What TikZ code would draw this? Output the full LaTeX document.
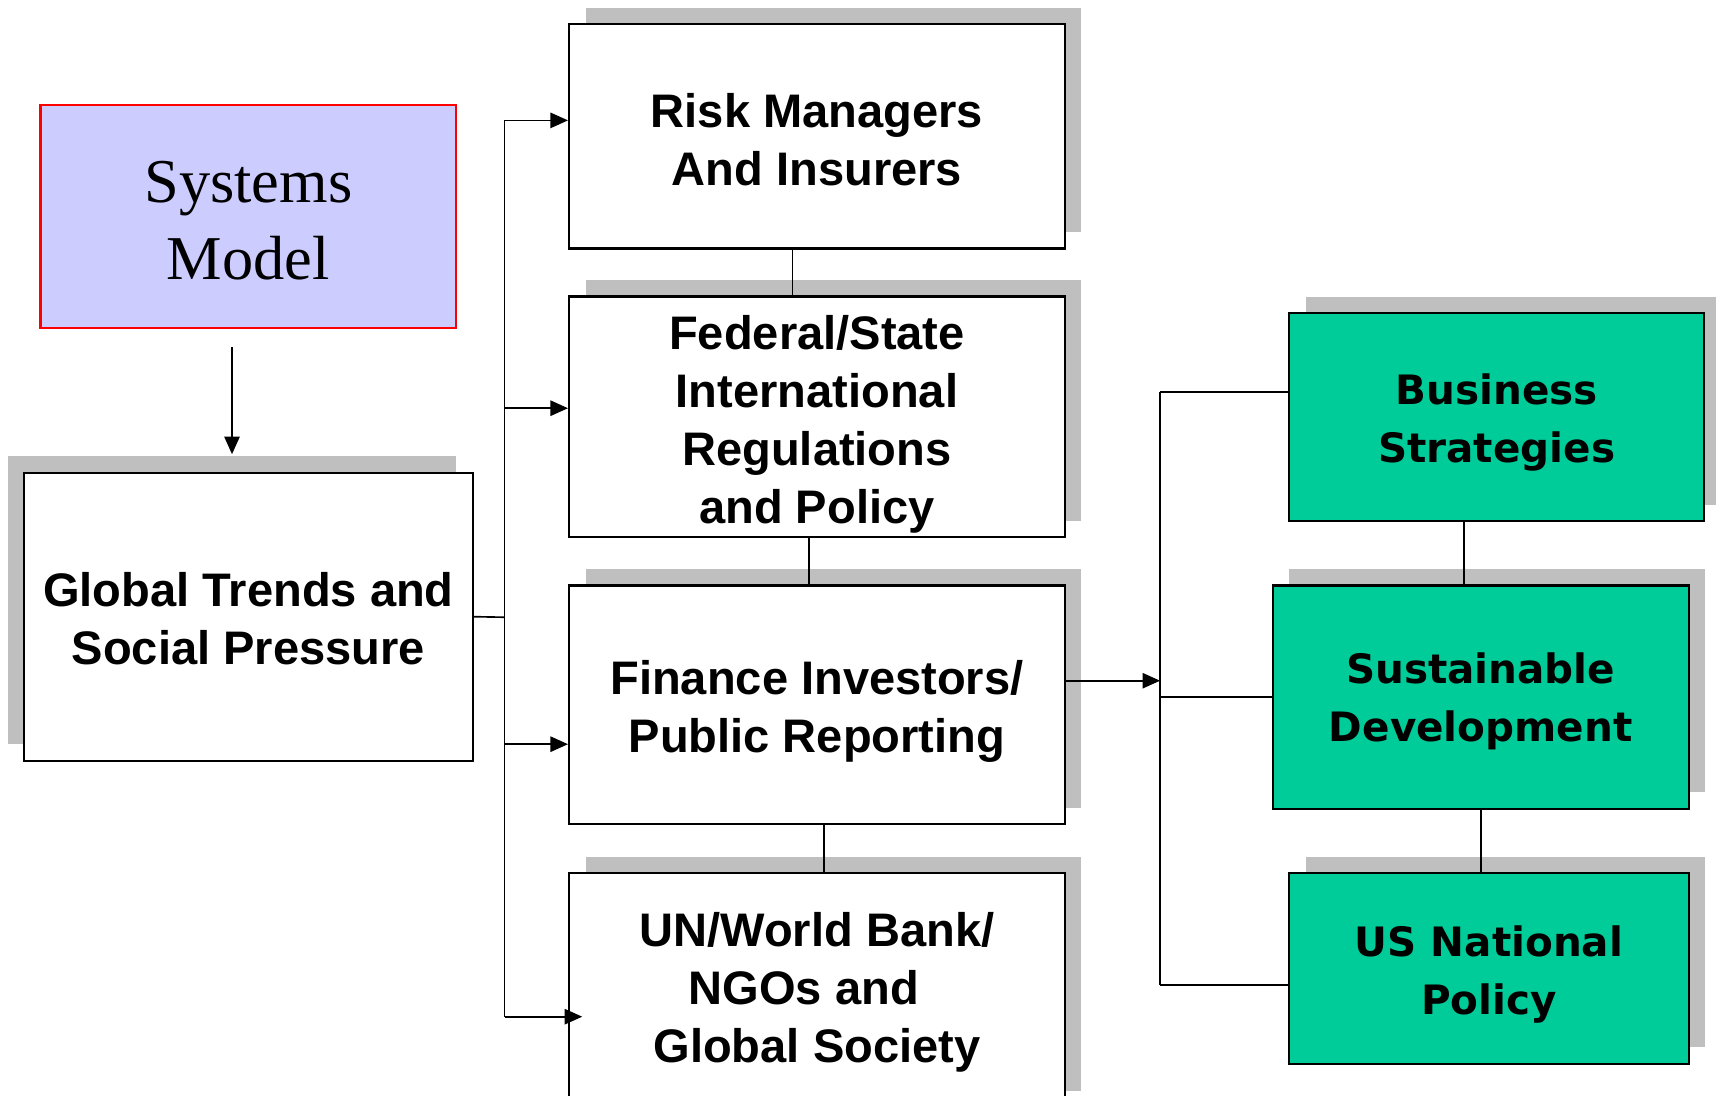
\documentclass[tikz,border=0pt]{standalone}
\usepackage{fontspec}
\setmainfont{Liberation Sans}
\newfontfamily\serifface{Liberation Serif}
\newfontfamily\wideface{DejaVu Sans}
\usetikzlibrary{arrows.meta,shadows}

\definecolor{lavender}{HTML}{CCCCFF}
\definecolor{seagreen}{HTML}{00CC99}
\definecolor{shadowgray}{HTML}{BFBFBF}

\begin{document}
\begin{tikzpicture}[x=0.5pt,y=-0.5pt,
    plain_box/.style={rectangle,draw,line width=1pt,fill=white,align=center,inner sep=0pt,font=\fontsize{21.5}{26.5}\selectfont\bfseries},
    box_node/.style={plain_box,drop shadow={shadow xshift=7.5pt,shadow yshift=7.5pt,fill=shadowgray,opacity=1}},
    left_node/.style={plain_box,drop shadow={shadow xshift=-7.5pt,shadow yshift=7.5pt,fill=shadowgray,opacity=1}},
    green_node/.style={box_node,fill=seagreen,font=\wideface\fontsize{18.5}{26.5}\selectfont\bfseries},
    sys_node/.style={rectangle,draw=red,line width=1pt,fill=lavender,align=center,font=\serifface\fontsize{28.5}{35}\selectfont},
    link/.style={line width=0.75pt},
    arrow_link/.style={link,-{Triangle[length=8pt,width=7pt]}}]

    \useasboundingbox (0,0) rectangle (1568,1001);

    \node[sys_node,minimum width=190pt,minimum height=102pt] (sys) at (227,198) {\rule{0pt}{22.5pt}Systems\\Model};
    \node[left_node,minimum width=205pt,minimum height=131.5pt] (glob) at (227,563.5) {\rule{0pt}{17.5pt}Global Trends and\\Social Pressure};

    \node[box_node,minimum width=226.5pt,minimum height=102.5pt] (risk) at (746.5,124.5) {\rule{0pt}{19pt}Risk Managers\\And Insurers};
    \node[box_node,minimum width=226.5pt,minimum height=110pt] (fed) at (746.5,381) {\rule{0pt}{22pt}Federal/State\\International\\Regulations\\and Policy};
    \node[box_node,minimum width=226.5pt,minimum height=109pt] (fin) at (746.5,644) {\rule{0pt}{22pt}Finance Investors/\\Public Reporting};
    \node[box_node,minimum width=226.5pt,minimum height=107pt] (un) at (746.5,905) {\rule{0pt}{17pt}UN/World Bank/\\NGOs and\rule{12pt}{0pt}\\Global Society};

    \node[green_node,minimum width=189.5pt,minimum height=95pt] (bus) at (1367.5,381) {\rule{0pt}{19pt}Business\\Strategies};
    \node[green_node,minimum width=190pt,minimum height=102pt] (sust) at (1353,637) {\rule{0pt}{18pt}Sustainable\\Development};
    \node[green_node,minimum width=182.5pt,minimum height=87pt] (us) at (1360.5,885) {\rule{0pt}{19.5pt}US National\\Policy};

    \coordinate (bus_left) at (461,564);
    \coordinate (in_risk) at (461,110);
    \coordinate (in_fed) at (461,373);
    \coordinate (in_fin) at (461,680);
    \coordinate (in_un) at (461,929);
    \coordinate (out_top) at (1060,358);
    \coordinate (out_mid) at (1060,622);
    \coordinate (out_bot) at (1060,900);

    \draw[arrow_link,shorten <=8pt,shorten >=8pt] ([xshift=-7.5pt]sys.south) -- ([xshift=-7.5pt]sys.south |- glob.north);

    \draw[link] (glob.east) -- (bus_left);
    \draw[link] (in_risk) -- (in_un);
    \draw[arrow_link] (in_risk) -- (in_risk -| risk.west);
    \draw[arrow_link] (in_fed) -- (in_fed -| fed.west);
    \draw[arrow_link] (in_fin) -- (in_fin -| fin.west);
    \draw[arrow_link] (in_un) -- ([xshift=6.5pt]in_un -| un.west);

    \draw[link] ([xshift=-11.25pt]risk.south) -- ([xshift=-11.25pt]fed.north);
    \draw[link] ([xshift=-3.75pt]fed.south) -- ([xshift=-3.75pt]fin.north);
    \draw[link] ([xshift=3.25pt]fin.south) -- ([xshift=3.25pt]un.north);

    \draw[arrow_link] ([yshift=11pt]fin.east) -- (out_mid);
    \draw[link] (out_top) -- (out_bot);
    \draw[link] (out_top) -- (out_top -| bus.west);
    \draw[link] (sust.west) -- (sust.west -| out_top);
    \draw[link] (out_bot) -- (out_bot -| us.west);

    \draw[link] ([xshift=-14.75pt]bus.south) -- ([xshift=-14.75pt]bus.south |- sust.north);
    \draw[link] (sust.south) -- (sust.south |- us.north);
\end{tikzpicture}
\end{document}
